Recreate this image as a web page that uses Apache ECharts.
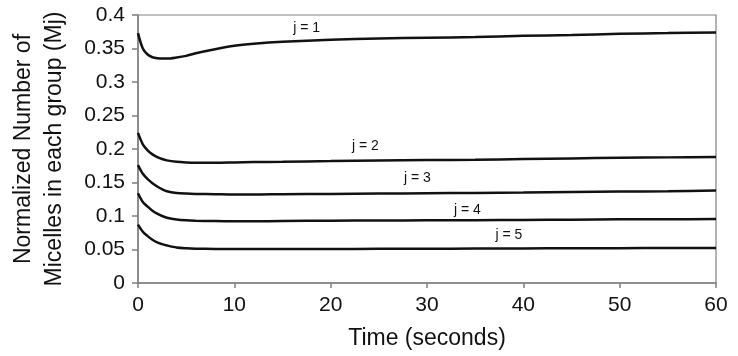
<!DOCTYPE html>
<html>
<head>
<meta charset="utf-8">
<script src="https://cdn.jsdelivr.net/npm/echarts@6/dist/echarts.min.js"></script>
<style>
  html, body { margin: 0; padding: 0; background: #fff; }
  #chart { width: 738px; height: 356px; }
</style>
</head>
<body>
<div id="chart"></div>
<script>
// time in seconds
var times = [0, 0.5, 1, 1.5, 2, 2.5, 3, 4, 5, 6, 8, 10, 12, 15, 20, 25, 30, 35, 40, 45, 50, 55, 60];

// normalized number of micelles, one array per group
var mj1 = [0.373, 0.350, 0.341, 0.337, 0.3355, 0.335, 0.335, 0.3365, 0.339, 0.343, 0.349, 0.354, 0.357, 0.360, 0.363, 0.365, 0.366, 0.367, 0.369, 0.370, 0.372, 0.373, 0.374];
var mj2 = [0.224, 0.207, 0.198, 0.192, 0.188, 0.185, 0.183, 0.181, 0.180, 0.1795, 0.1795, 0.180, 0.1805, 0.181, 0.182, 0.183, 0.1835, 0.184, 0.185, 0.186, 0.187, 0.1875, 0.188];
var mj3 = [0.176, 0.163, 0.155, 0.149, 0.144, 0.140, 0.137, 0.1345, 0.1335, 0.133, 0.1325, 0.132, 0.132, 0.1325, 0.133, 0.1335, 0.134, 0.1345, 0.135, 0.136, 0.1365, 0.137, 0.138];
var mj4 = [0.134, 0.121, 0.114, 0.108, 0.1035, 0.100, 0.0975, 0.0948, 0.0935, 0.093, 0.0925, 0.0922, 0.0922, 0.0925, 0.093, 0.0932, 0.0935, 0.0938, 0.094, 0.0945, 0.095, 0.0952, 0.0955];
var mj5 = [0.087, 0.0765, 0.070, 0.0645, 0.0605, 0.058, 0.056, 0.053, 0.0518, 0.0512, 0.0508, 0.0506, 0.0506, 0.0507, 0.0508, 0.051, 0.0512, 0.0514, 0.0516, 0.0518, 0.052, 0.0522, 0.0524];

var groupNames = ['j = 1', 'j = 2', 'j = 3', 'j = 4', 'j = 5'];
// where each curve's name sits, in axis units [time, value]
var labelAt = [[17.5, 0.381], [23.6, 0.204], [29.0, 0.156], [34.2, 0.108], [38.5, 0.071]];

var chart = echarts.init(document.getElementById('chart'));
var font = '"Liberation Sans", Arial, sans-serif';

function pairs(ys) {
  return times.map(function (t, i) { return [t, ys[i]]; });
}

var allSeries = [mj1, mj2, mj3, mj4, mj5].map(function (ys, k) {
  return {
    name: groupNames[k],
    type: 'line',
    smooth: 0.3,
    symbol: 'none',
    data: pairs(ys),
    lineStyle: { color: '#111', width: 2.5 },
    markPoint: {
      symbol: 'circle',
      symbolSize: 0,
      silent: true,
      label: {
        show: true,
        position: 'inside',
        formatter: groupNames[k],
        color: '#111',
        fontFamily: font,
        fontSize: 14
      },
      data: [{ coord: labelAt[k] }]
    }
  };
});

chart.setOption({
  animation: false,
  backgroundColor: '#fff',
  grid: { left: 133, right: 22, top: 15, bottom: 73, show: true, borderColor: '#808080', borderWidth: 1.2 },
  xAxis: {
    type: 'value',
    min: 0, max: 60, interval: 10,
    name: 'Time (seconds)',
    nameLocation: 'middle',
    nameGap: 44,
    nameTextStyle: { fontFamily: font, fontSize: 23, color: '#111' },
    axisLine: { show: true, lineStyle: { color: '#808080', width: 1.5 } },
    axisTick: { show: true, length: 5, lineStyle: { color: '#808080', width: 1.5 } },
    axisLabel: { fontFamily: font, fontSize: 21, color: '#111', margin: 12 },
    splitLine: { show: false }
  },
  yAxis: {
    type: 'value',
    min: 0, max: 0.4, interval: 0.05,
    name: 'Normalized Number of\nMicelles in each group (Mj)',
    nameLocation: 'middle',
    nameGap: 68,
    nameRotate: 90,
    nameTextStyle: { fontFamily: font, fontSize: 23, color: '#111', lineHeight: 31 },
    axisLine: { show: true, lineStyle: { color: '#808080', width: 1.5 } },
    axisTick: { show: true, length: 6, lineStyle: { color: '#808080', width: 1.5 } },
    axisLabel: { fontFamily: font, fontSize: 21, color: '#111', margin: 13 },
    splitLine: { show: false }
  },
  series: allSeries
});
</script>
</body>
</html>
